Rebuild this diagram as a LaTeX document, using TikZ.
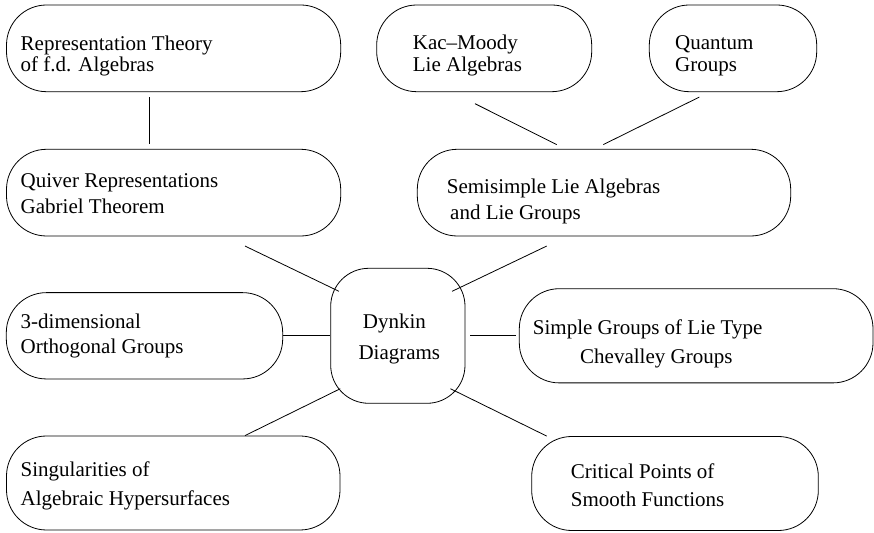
\documentclass[tikz,border=0pt]{standalone}
\usepackage{fontspec}
\setmainfont{Liberation Serif}
\begin{document}
\begin{tikzpicture}[x=1pt,y=1pt,
  box/.style={draw=black, line width=0.8pt, rounded corners=40pt, inner sep=0pt},
  roundbox/.style={draw=black, line width=0.8pt, rounded corners=38pt, inner sep=0pt},
  lbl/.style={anchor=base west, inner sep=0pt, font=\fontsize{21pt}{25pt}\selectfont, text=black},
  conn/.style={draw=black, line width=0.8pt}]
\useasboundingbox (0,0) rectangle (874,532);

% boxes
\node[box, minimum width=334.2pt, minimum height=86.7pt] (b1) at (173.6,483.65) {};
\node[box, minimum width=215pt, minimum height=86.7pt] (b2) at (484.2,483.65) {};
\node[box, minimum width=167.4pt, minimum height=86.7pt] (b3) at (733,483.65) {};
\node[box, minimum width=334.2pt, minimum height=86.7pt] (b4) at (173.6,339.35) {};
\node[box, minimum width=373.4pt, minimum height=86.7pt] (b5) at (604,339.35) {};
\node[roundbox, minimum width=134.3pt, minimum height=135pt] (b6) at (397.85,196.2) {};
\node[box, minimum width=276.4pt, minimum height=86.3pt] (b7) at (144.5,196.2) {};
\node[box, minimum width=353.7pt, minimum height=94.2pt] (b8) at (696.15,196.2) {};
\node[box, minimum width=333.5pt, minimum height=94pt] (b9) at (173.25,49) {};
\node[box, minimum width=286.6pt, minimum height=94pt] (b10) at (675,48.5) {};

% texts
\node[lbl] (t1a) at (20.5,481.3) {Representation Theory};
\node[lbl] (t1b) at (20.5,460.7) {of f.d. Algebras};
\node[lbl] (t2a) at (412.7,482) {Kac–Moody};
\node[lbl] (t2b) at (412.7,460.3) {Lie Algebras};
\node[lbl] (t3a) at (675,482) {Quantum};
\node[lbl] (t3b) at (675,460.3) {Groups};
\node[lbl] (t4a) at (20.5,344.7) {Quiver Representations};
\node[lbl] (t4b) at (20.5,318.7) {Gabriel Theorem};
\node[lbl] (t5a) at (446.7,338.7) {Semisimple Lie Algebras};
\node[lbl] (t5b) at (450,312) {and Lie Groups};
\node[lbl] (t6a) at (362.7,203.7) {Dynkin};
\node[lbl] (t6b) at (358.3,172.7) {Diagrams};
\node[lbl] (t7a) at (20.5,203.7) {3-dimensional};
\node[lbl] (t7b) at (20.5,178.7) {Orthogonal Groups};
\node[lbl] (t8a) at (532.7,197) {Simple Groups of Lie Type};
\node[lbl] (t8b) at (580,168.7) {Chevalley Groups};
\node[lbl] (t9a) at (20.5,55.3) {Singularities of};
\node[lbl] (t9b) at (20.5,27) {Algebraic Hypersurfaces};
\node[lbl] (t10a) at (570.7,53.7) {Critical Points of};
\node[lbl] (t10b) at (570.7,25.3) {Smooth Functions};

% connectors
\draw[conn] ([xshift=-24.6pt,yshift=-5pt]b1.south) -- ([xshift=-24.6pt,yshift=5.3pt]b4.north);
\draw[conn] ([xshift=-9.2pt,yshift=-11.6pt]b2.south) -- ([xshift=-47.3pt,yshift=4.3pt]b5.north);
\draw[conn] ([xshift=-33.7pt,yshift=-5pt]b3.south) -- ([xshift=-0.7pt,yshift=4.3pt]b5.north);
\draw[conn] ([xshift=71.4pt,yshift=-9.65pt]b4.south) -- ([xshift=8.6pt,yshift=-23.4pt]b6.north west);
\draw[conn] ([xshift=-57.3pt,yshift=-9.65pt]b5.south) -- ([xshift=-13.3pt,yshift=-23.4pt]b6.north east);
\draw[conn] (b7.east) -- (b6.west);
\draw[conn] ([xshift=5pt]b6.east) -- ([xshift=-2.6pt]b8.west);
\draw[conn] ([xshift=71.75pt]b9.north) -- ([xshift=10pt,yshift=15pt]b6.south west);
\draw[conn] ([xshift=-15pt,yshift=15pt]b6.south east) -- ([xshift=-128.3pt]b10.north);
\end{tikzpicture}
\end{document}
